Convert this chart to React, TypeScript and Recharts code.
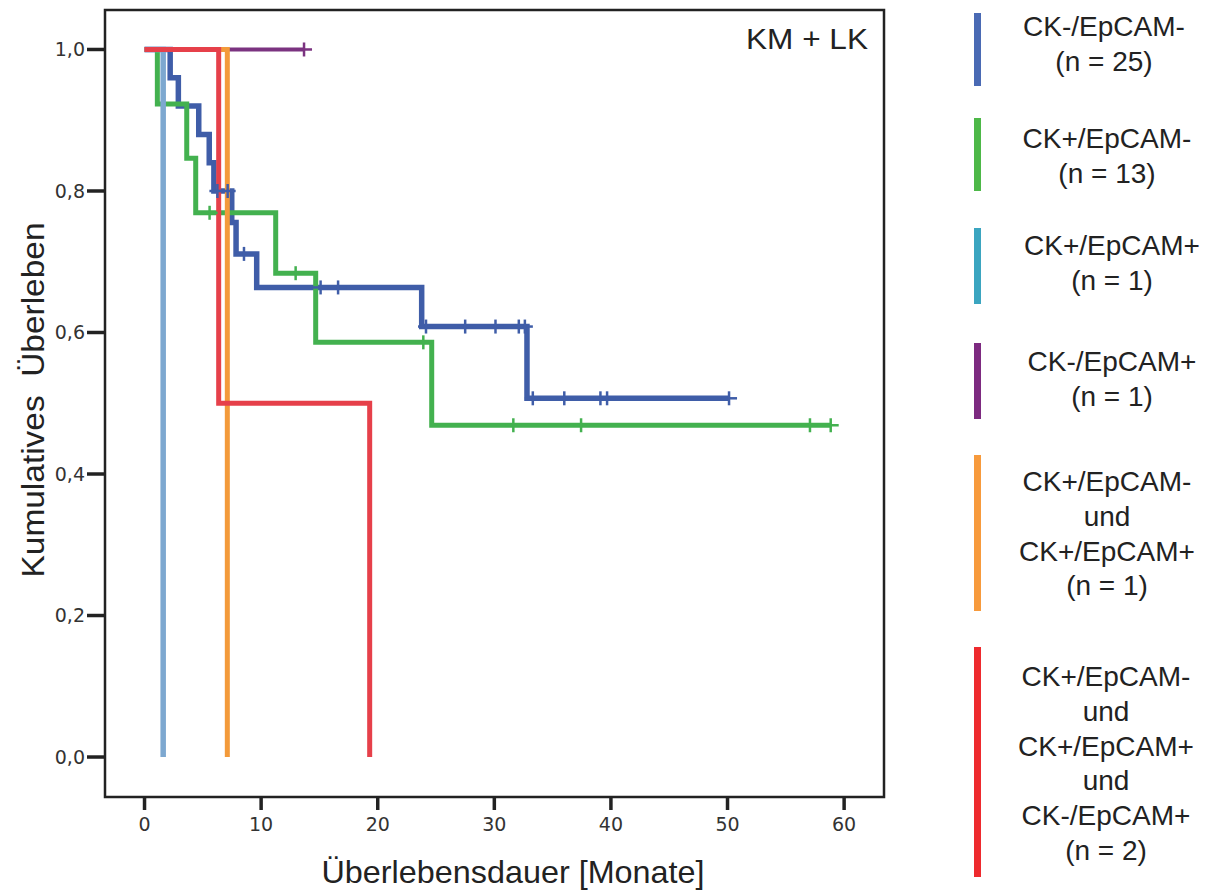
import React from "react";
import { LineChart, Line, XAxis, YAxis, ReferenceArea } from "recharts";

// Kaplan-Meier points: [time (months), survival, censored (1) / event (0)]
const ckNegEpNeg: [number, number, number][] = [
  [0, 1, 0], [2.2, 0.96, 0], [2.9, 0.92, 0], [4.65, 0.88, 0], [5.55, 0.84, 0], [5.95, 0.8, 0],
  [6.25, 0.8, 1], [7.13, 0.8, 1], [7.48, 0.7556, 0], [7.85, 0.7111, 0], [8.53, 0.7111, 1],
  [9.62, 0.6637, 0], [15.1, 0.6637, 1], [16.6, 0.6637, 1], [23.77, 0.6084, 0], [24.14, 0.6084, 1],
  [27.5, 0.6084, 1], [30.1, 0.6084, 1], [32.1, 0.6084, 1], [32.62, 0.6084, 1], [32.8, 0.507, 0],
  [33.3, 0.507, 1], [36.0, 0.507, 1], [39.1, 0.507, 1], [39.67, 0.507, 1], [50.13, 0.507, 1],
];
const ckPosEpNeg: [number, number, number][] = [
  [0, 1, 0], [1.1, 0.9231, 0], [3.62, 0.8462, 0], [4.39, 0.7692, 0], [5.58, 0.7692, 1],
  [11.25, 0.6838, 0], [12.96, 0.6838, 1], [14.68, 0.5861, 0], [23.91, 0.5861, 1], [24.63, 0.4689, 0],
  [31.63, 0.4689, 1], [37.44, 0.4689, 1], [57.07, 0.4689, 1], [58.85, 0.4689, 1],
];
const ckPosEpPos: [number, number, number][] = [[0, 1, 0], [1.6, 0, 0]];
const ckNegEpPos: [number, number, number][] = [[0, 1, 0], [13.68, 1, 1]];
const comboTwo: [number, number, number][] = [[0, 1, 0], [7.1, 0, 0]];
const comboThree: [number, number, number][] = [[0, 1, 0], [6.36, 0.5, 0], [19.31, 0, 0]];

const xTicks = [0, 10, 20, 30, 40, 50, 60];
const yTicks = [0, 0.2, 0.4, 0.6, 0.8, 1.0];

const legendLabels: string[][] = [
  ["CK-/EpCAM-", "(n = 25)"],
  ["CK+/EpCAM-", "(n = 13)"],
  ["CK+/EpCAM+", "(n = 1)"],
  ["CK-/EpCAM+", "(n = 1)"],
  ["CK+/EpCAM-", "und", "CK+/EpCAM+", "(n = 1)"],
  ["CK+/EpCAM-", "und", "CK+/EpCAM+", "und", "CK-/EpCAM+", "(n = 2)"],
];
const legendColors = ["#4A6AB4", "#4DB848", "#3BA5C0", "#7D2A80", "#F79A3C", "#EE2A2E"];

// styling / layout
const legendBars = [[13, 86], [118, 191], [228, 304], [343, 419], [455, 611], [647, 877]];
const legendCenters = [1104, 1107, 1112, 1112, 1107, 1106];
const legendFirstBaseline = [36, 148.3, 255, 371, 491, 686];
const legendLineGap = 34.8;

const toRows = (pts: [number, number, number][]) => pts.map(([t, s, c]) => ({ t, s, c }));

const XMIN = -3.39, XMAX = 63.42, YMIN = -0.0565, YMAX = 1.0558;

const makeDot = (color: string) => (props: any) => {
  const { cx, cy, payload, index } = props;
  if (!payload || !payload.c || cx == null || cy == null) return <g key={`d${index}`} />;
  return (
    <g key={`d${index}`}>
      <line x1={cx - 8} x2={cx + 8} y1={cy} y2={cy} stroke={color} strokeWidth={2.5} />
      <line x1={cx} x2={cx} y1={cy - 7} y2={cy + 7} stroke={color} strokeWidth={2.5} />
    </g>
  );
};

const series = [
  { key: "blue", data: ckNegEpNeg, color: "#3F5DA8", width: 5.5 },
  { key: "green", data: ckPosEpNeg, color: "#43B14F", width: 5 },
  { key: "purple", data: ckNegEpPos, color: "#7B3380", width: 4 },
  { key: "orange", data: comboTwo, color: "#F39A3A", width: 5 },
  { key: "lightblue", data: ckPosEpPos, color: "#7DA8D0", width: 5.5 },
  { key: "red", data: comboThree, color: "#E6404A", width: 5 },
];

export default function App() {
  const font = "'Liberation Sans', Arial, sans-serif";
  const tickFont = "'DejaVu Sans', Verdana, sans-serif";
  return (
    <div style={{ position: "absolute", left: 0, top: 0, width: 1212, height: 892, background: "#fff" }}>
      <LineChart
        width={1212}
        height={892}
        margin={{ top: 10, right: 328, bottom: 0, left: 0 }}
      >
        <XAxis
          type="number"
          dataKey="t"
          domain={[XMIN, XMAX]}
          allowDataOverflow
          ticks={xTicks}
          height={95}
          axisLine={false}
          tickSize={13}
          tickMargin={8}
          tickLine={{ stroke: "#222", strokeWidth: 3.5 }}
          tick={{ fill: "#333", fontSize: 19, fontFamily: tickFont }}
        />
        <YAxis
          type="number"
          dataKey="s"
          domain={[YMIN, YMAX]}
          allowDataOverflow
          ticks={yTicks}
          width={105}
          axisLine={false}
          tickSize={18}
          tickMargin={2}
          tickLine={{ stroke: "#222", strokeWidth: 3.5 }}
          tick={{ fill: "#333", fontSize: 19, fontFamily: tickFont }}
          tickFormatter={(v: number) => v.toFixed(1).replace(".", ",")}
        />
        <ReferenceArea
          x1={XMIN}
          x2={XMAX}
          y1={YMIN}
          y2={YMAX}
          fill="none"
          fillOpacity={0}
          stroke="#222"
          strokeWidth={2.5}
          ifOverflow="visible"
        />
        {series.map((s) => (
          <Line
            key={s.key}
            data={toRows(s.data)}
            dataKey="s"
            type="stepAfter"
            stroke={s.color}
            strokeWidth={s.width}
            dot={makeDot(s.color)}
            activeDot={false}
            isAnimationActive={false}
            strokeLinecap="butt"
            strokeLinejoin="miter"
          />
        ))}
      </LineChart>
      <svg
        width={1212}
        height={892}
        style={{ position: "absolute", left: 0, top: 0, pointerEvents: "none" }}
      >
        <text x={868} y={49} textAnchor="end" fontFamily={font} fontSize={29} fill="#222" textLength={122} lengthAdjust="spacingAndGlyphs">
          KM + LK
        </text>
        <text
          x={0}
          y={0}
          transform="translate(44 400) rotate(-90)"
          textAnchor="middle"
          fontFamily={font}
          fontSize={32}
          fill="#222"
          textLength={355}
          lengthAdjust="spacingAndGlyphs"
          style={{ whiteSpace: "pre" }}
        >
          {"Kumulatives\u00a0 Überleben"}
        </text>
        <text x={513} y={883} textAnchor="middle" fontFamily={font} fontSize={32} fill="#222" textLength={383} lengthAdjust="spacingAndGlyphs">
          Überlebensdauer [Monate]
        </text>
        {legendLabels.map((lines, i) => (
          <g key={i}>
            <rect x={974} y={legendBars[i][0]} width={7} height={legendBars[i][1] - legendBars[i][0]} fill={legendColors[i]} />
            {lines.map((ln, j) => (
              <text
                key={j}
                x={legendCenters[i]}
                y={legendFirstBaseline[i] + j * legendLineGap}
                textAnchor="middle"
                fontFamily={font}
                fontSize={28}
                fill="#222"
              >
                {ln}
              </text>
            ))}
          </g>
        ))}
      </svg>
    </div>
  );
}
